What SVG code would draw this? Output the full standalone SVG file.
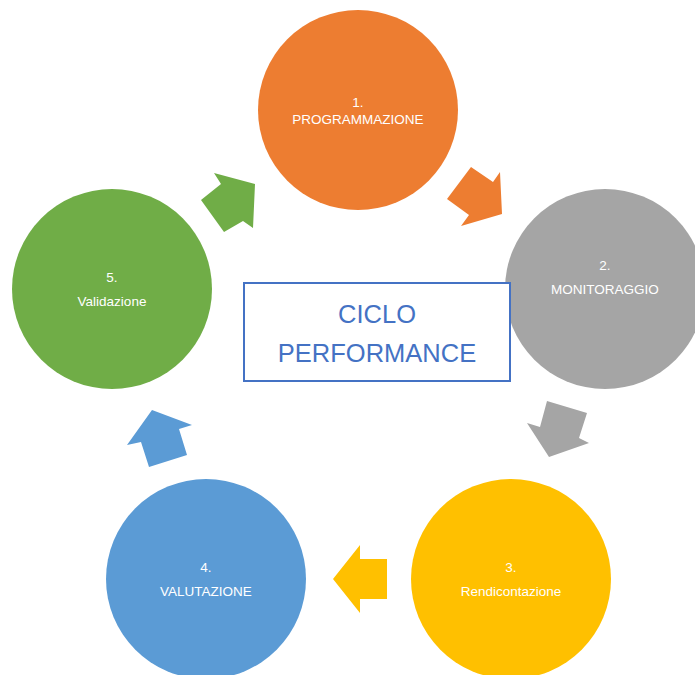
<svg xmlns="http://www.w3.org/2000/svg" width="695" height="675" viewBox="0 0 695 675">
<style>
.lbl{font-family:"Liberation Sans",Arial,sans-serif;font-size:13.5px;fill:#ffffff;text-anchor:middle}
.title{font-family:"Liberation Sans",Arial,sans-serif;font-size:25.5px;fill:#4472C4;text-anchor:middle}
</style>
<rect width="695" height="675" fill="#ffffff"/>
<g id="connectors">
<polygon id="arrow-1-2" fill="#ED7D31" points="471,167 493,182 500,172 502,214 461,226 469,215 447,199"/>
<polygon id="arrow-2-3" fill="#A5A5A5" points="547,401 587,413 579,438 589,443 549,457 527,423 540,427"/>
<polygon id="arrow-3-4" fill="#FFC000" points="333,579 360,545 360,559 387,559 387,599 360,599 360,613"/>
<polygon id="arrow-4-5" fill="#5B9BD5" points="152,410 192,425 179,429 187,455 149,467 141,442 127,445"/>
<polygon id="arrow-5-1" fill="#70AD47" points="224,232 201,200 221,184 214,173 255,184 253,228 243,221"/>
</g>
<g id="node1">
<circle cx="358" cy="110" r="100" fill="#ED7D31"/>
<text class="lbl" x="358" y="107">1.</text>
<text class="lbl" x="358" y="124">PROGRAMMAZIONE</text>
</g>
<g id="node2">
<circle cx="605" cy="289" r="100" fill="#A5A5A5"/>
<text class="lbl" x="605" y="270">2.</text>
<text class="lbl" x="605" y="294">MONITORAGGIO</text>
</g>
<g id="node3">
<circle cx="511" cy="579" r="100" fill="#FFC000"/>
<text class="lbl" x="511" y="572">3.</text>
<text class="lbl" x="511" y="596">Rendicontazione</text>
</g>
<g id="node4">
<circle cx="206" cy="579" r="100" fill="#5B9BD5"/>
<text class="lbl" x="206" y="572">4.</text>
<text class="lbl" x="206" y="596">VALUTAZIONE</text>
</g>
<g id="node5">
<circle cx="112" cy="289" r="100" fill="#70AD47"/>
<text class="lbl" x="112" y="282">5.</text>
<text class="lbl" x="112" y="306">Validazione</text>
</g>
<g id="center">
<rect x="244" y="283" width="266" height="98" fill="#ffffff" stroke="#4472C4" stroke-width="2"/>
<text class="title" x="377" y="323">CICLO</text>
<text class="title" x="377" y="362">PERFORMANCE</text>
</g>
</svg>
